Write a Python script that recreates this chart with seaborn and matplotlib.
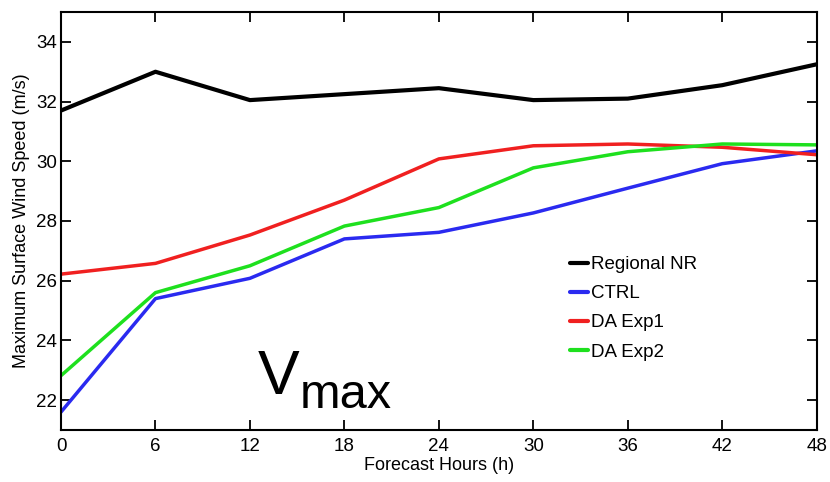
import numpy as np
import pandas as pd
import matplotlib
matplotlib.use("Agg")
import matplotlib.pyplot as plt
import seaborn as sns

# forecast hours
hours = [0, 6, 12, 18, 24, 30, 36, 42, 48]

# max surface wind speed (m/s)
regional_nr = [31.7, 33.0, 32.05, 32.25, 32.45, 32.05, 32.1, 32.55, 33.25]
ctrl = [21.6, 25.4, 26.08, 27.4, 27.62, 28.27, 29.1, 29.92, 30.35]
da_exp1 = [26.22, 26.58, 27.53, 28.7, 30.08, 30.52, 30.58, 30.47, 30.22]
da_exp2 = [22.82, 25.6, 26.5, 27.83, 28.45, 29.78, 30.32, 30.58, 30.55]

series_names = ["Regional NR", "CTRL", "DA Exp1", "DA Exp2"]
series_colors = ["#000000", "#2a2af0", "#f02020", "#1ee01e"]
yticks = [22, 24, 26, 28, 30, 32, 34]

df = pd.DataFrame({
    "hour": hours * 4,
    "speed": regional_nr + ctrl + da_exp1 + da_exp2,
    "run": sum([[n] * len(hours) for n in series_names], []),
})

sns.set_theme(style="ticks")
plt.rcParams["font.family"] = ["Liberation Sans", "DejaVu Sans"]
plt.rcParams["text.color"] = "black"
plt.rcParams["axes.labelcolor"] = "black"

fig = plt.figure(figsize=(8.3, 4.82), dpi=100)
ax = fig.add_axes([0.0735, 0.108, 0.9105, 0.867])

sns.lineplot(data=df, x="hour", y="speed", hue="run", hue_order=series_names,
             palette=dict(zip(series_names, series_colors)), ax=ax, linewidth=2.5)
# regional NR line a bit thicker
ax.lines[0].set_linewidth(3.0)

ax.set_xlim(0, 48)
ax.set_ylim(21, 35)
ax.set_xticks(hours)
ax.set_yticks(yticks)
ax.tick_params(direction="in", length=7, width=1.3, labelsize=13.5,
               top=True, right=True, colors="black", pad=6)
ax.tick_params(axis="y", pad=3)
for s in ax.spines.values():
    s.set_visible(True)
    s.set_linewidth(1.5)
    s.set_color("black")

ax.set_xlabel("Forecast Hours (h)", fontsize=13, labelpad=1, color="black")
ax.set_ylabel("Maximum Surface Wind Speed (m/s)", fontsize=13, labelpad=4, color="black")

leg = ax.legend(loc="upper left", bbox_to_anchor=(0.663, 0.434), frameon=False,
                fontsize=13.5, handlelength=1.0, handletextpad=0.15,
                labelspacing=0.64, borderaxespad=0)
for h in leg.get_lines():
    h.set_linewidth(3)
for t in leg.get_texts():
    t.set_color("black")

ax.text(0.26, 0.085, "V", transform=ax.transAxes, fontsize=45, ha="left", va="baseline",
        color="black")
ax.text(0.316, 0.053, "max", transform=ax.transAxes, fontsize=35, ha="left", va="baseline",
        color="black")

fig.savefig("out.png", dpi=100)
